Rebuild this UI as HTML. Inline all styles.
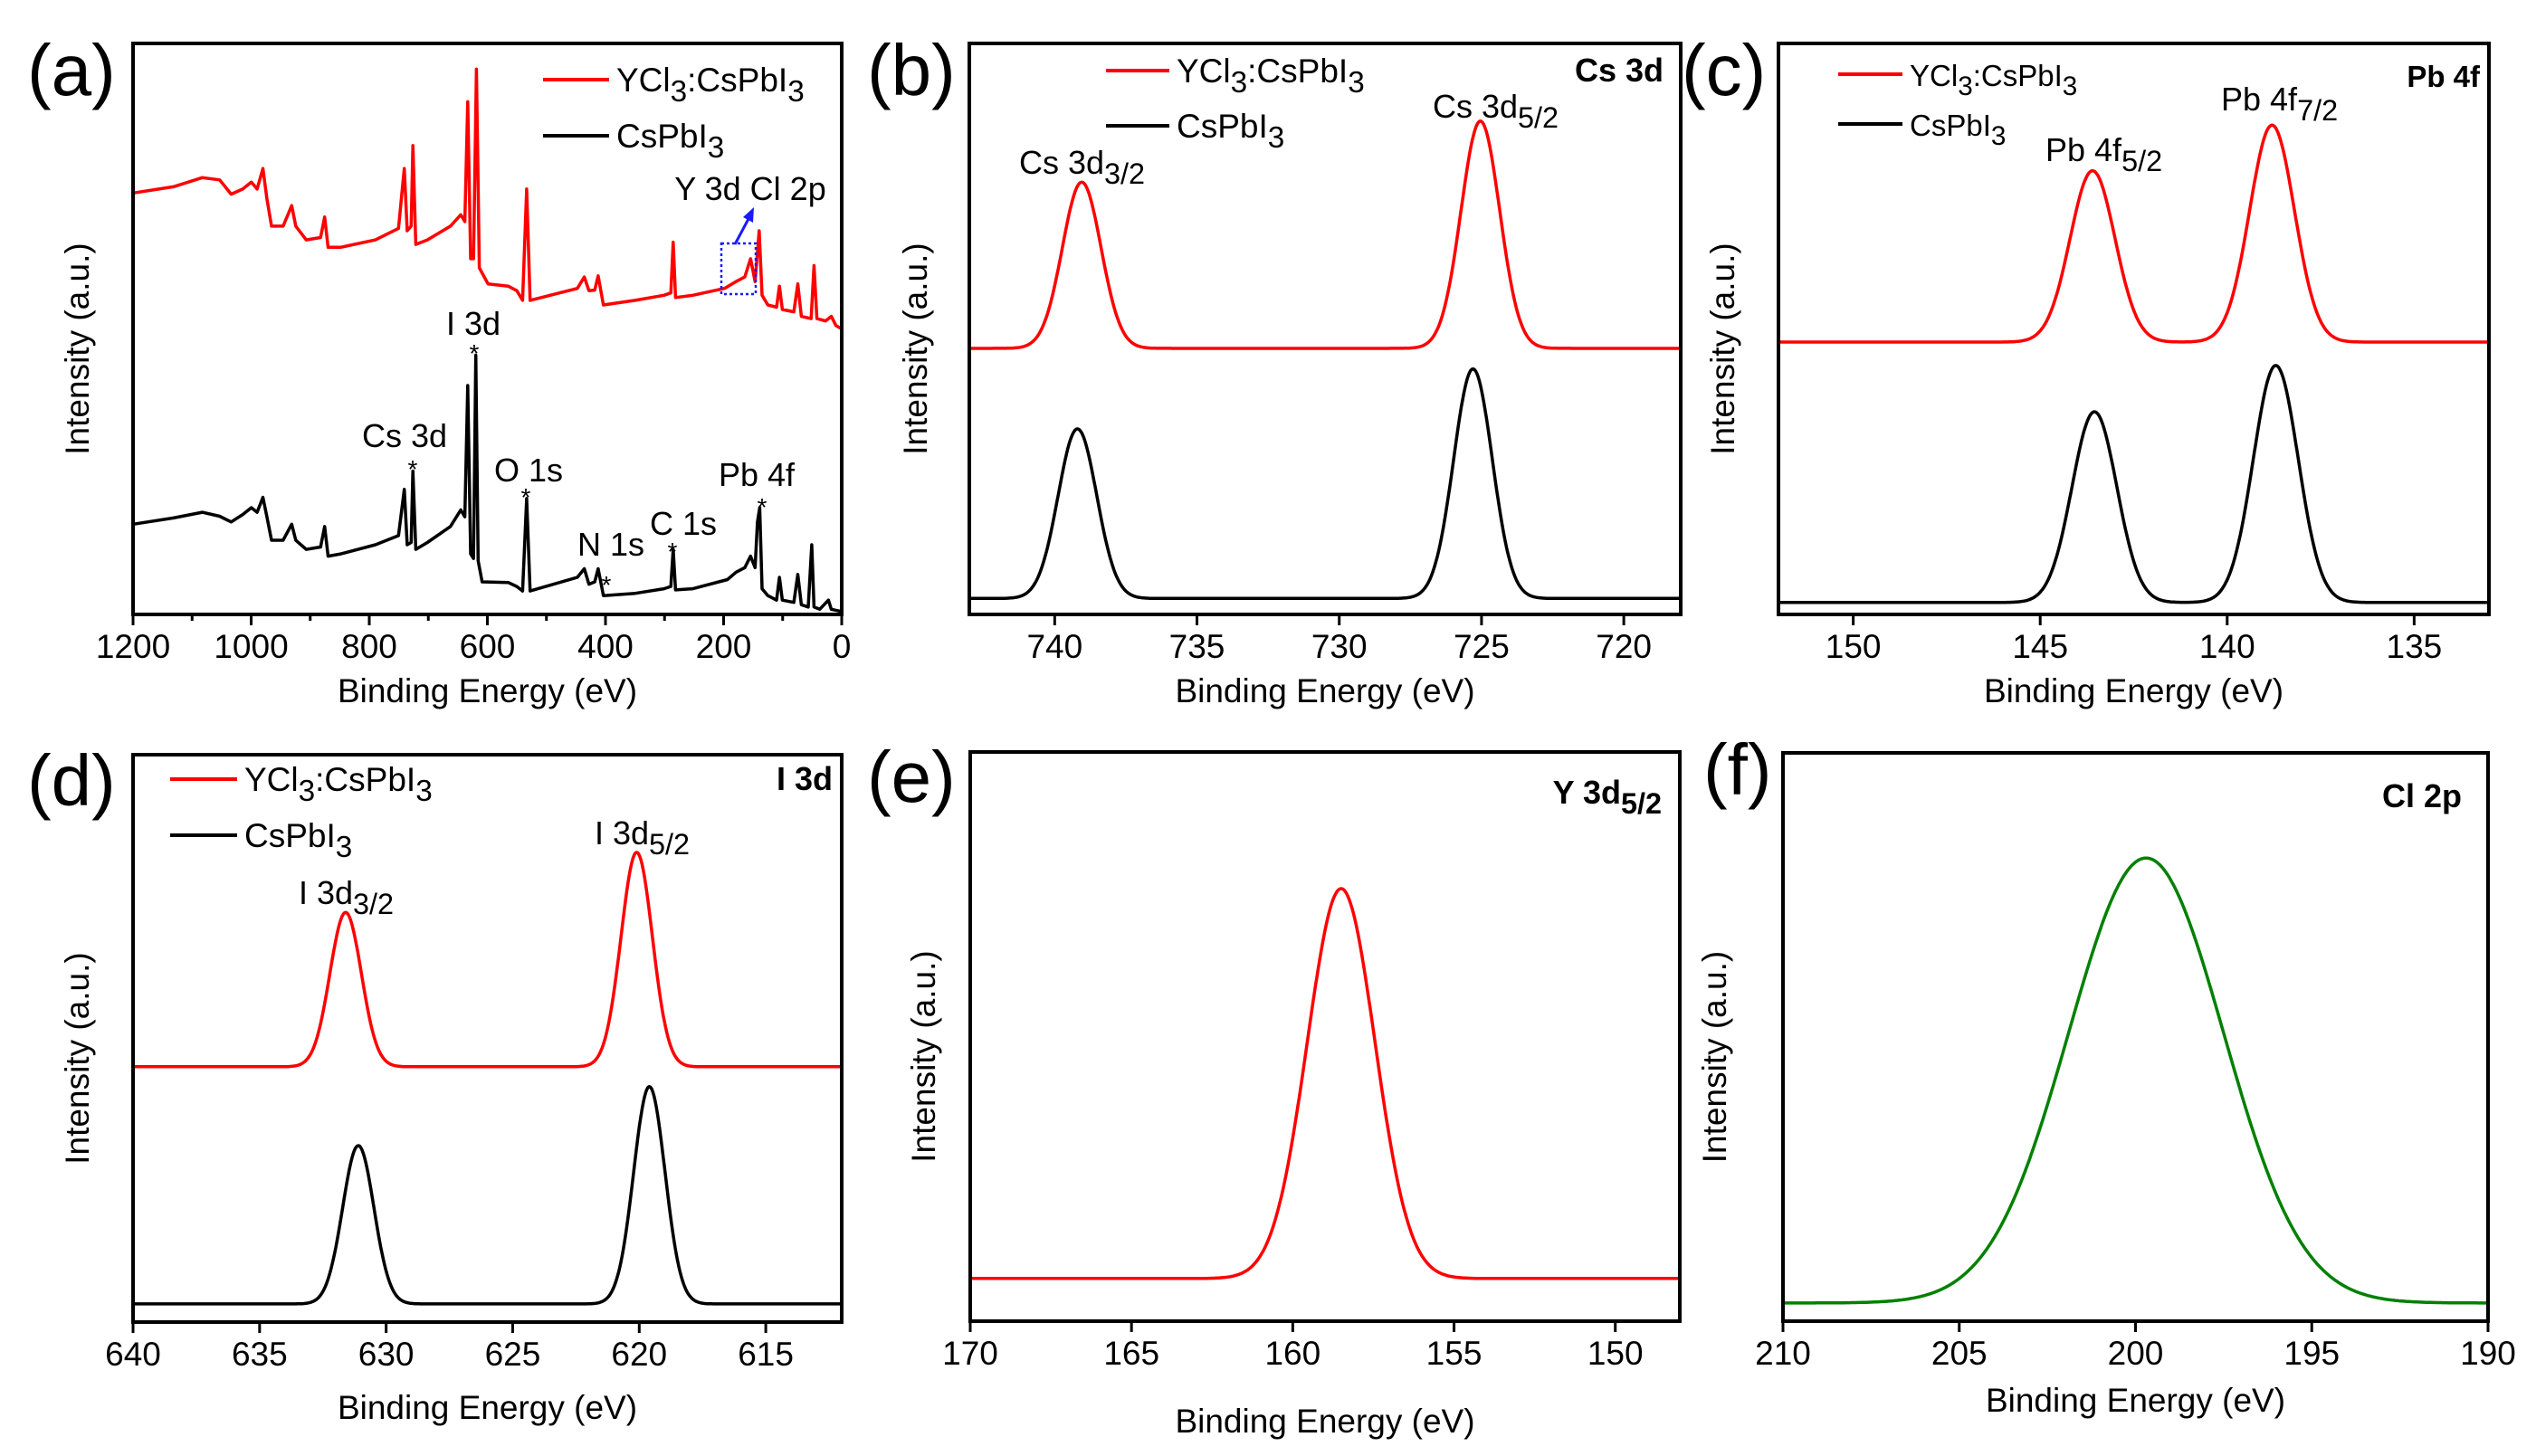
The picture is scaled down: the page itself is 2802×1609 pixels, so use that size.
<!DOCTYPE html>
<html><head><meta charset="utf-8">
<style>
html,body{margin:0;padding:0;background:#fff;}
svg{display:block;font-family:"Liberation Sans",Arial,sans-serif;}
</style></head>
<body>
<svg id="fig" width="2802" height="1609" viewBox="0 0 2802 1609" xmlns="http://www.w3.org/2000/svg"></svg>
<script>
// ---------- Panel (a) survey data ----------
const surveyRedE=[1200,1131.6,1082.7,1053.4,1033.9,1014.3,999.7,989.9,980.1,973.3,965.5,945.9,931.3,924.4,906.8,882.4,875.5,869.7,848.2,789.6,750.5,740.7,735.8,729.0,726.1,721.2,701.6,662.5,645.0,638.2,633.3,628.4,623.5,618.6,613.7,599.0,564.8,550.2,540.4,533.5,527.7,447.6,435.8,428.0,418.2,412.4,403.6,349.8,301.0,289.3,285.3,281.4,252.1,198.4,178.8,164.2,154.4,146.6,139.7,134.8,125.1,110.4,105.5,100.6,81.1,74.3,68.4,51.8,46.9,42.0,27.4,17.6,9.8,0];
const surveyRedI=[73.8,74.9,76.5,76.1,73.6,74.5,75.7,74.5,78.1,72.8,68.0,68.0,71.6,68.0,65.6,66.0,69.6,64.3,64.3,65.6,67.6,78.1,67.2,68.0,82.1,64.8,65.6,68.0,70.0,68.8,89.8,62.3,62.3,95.5,60.7,57.9,57.5,56.7,55.0,74.5,55.0,57.1,59.1,56.7,56.8,59.3,54.2,55.0,55.9,56.3,65.2,55.5,55.9,57.1,58.3,59.1,62.3,58.3,67.2,55.9,54.2,53.8,57.5,53.4,53.0,57.9,52.2,51.8,61.1,51.8,51.4,52.2,50.6,50.0];
const surveyBlackE=[1200,1131.6,1082.7,1053.4,1033.9,1014.3,999.7,989.9,980.1,973.3,965.5,945.9,931.3,924.4,906.8,882.4,875.5,869.7,848.2,789.6,750.5,740.7,735.8,729.0,726.1,721.2,701.6,662.5,645.0,638.2,633.3,628.4,623.5,619.6,615.7,608.9,564.8,550.2,540.4,533.5,527.7,447.6,435.8,428.0,418.2,412.4,403.6,349.8,301.0,289.3,285.3,281.4,252.1,193.5,178.8,164.2,154.4,146.6,142.7,138.8,134.8,125.1,110.4,105.5,100.6,81.1,74.3,68.4,56.7,50.8,46.9,37.2,22.5,17.6,0];
const surveyBlackI=[15.8,16.9,17.9,17.2,16.2,17.5,18.7,17.9,20.5,17.1,13.0,13.0,15.8,13.0,11.4,11.8,15.4,10.2,10.6,12.2,13.8,21.9,12.2,12.6,25.1,11.4,12.6,15.4,18.3,17.1,40.1,10.6,9.8,45.4,9.4,5.7,5.6,4.9,4.1,20.3,4.1,6.5,8.0,5.3,5.7,8.0,3.3,3.7,4.5,4.9,11.4,4.3,4.5,6.1,7.4,8.2,10.2,8.2,16.2,18.7,4.5,3.3,2.5,6.5,2.5,2.1,7.0,1.7,1.3,12.2,1.3,0.9,2.5,0.9,0.5];
const surveyTicks=[1200,1000,800,600,400,200,0];

// ---------- High-res panels: peak models (center eV, amplitude, sigma) ----------
const csRedCenters=[739.05,725.04], csRedAmps=[0.291,0.398], csRedBase=0.466;
const csBlackCenters=[739.2,725.3], csBlackAmps=[0.297,0.402], csBlackBase=0.028;
const csSigma=0.68;
const csTicks=[740,735,730,725,720];

const pbRedCenters=[143.6,138.8], pbRedAmps=[0.30,0.38], pbRedBase=0.477;
const pbBlackCenters=[143.55,138.7], pbBlackAmps=[0.334,0.415], pbBlackBase=0.021;
const pbSigma=0.6;
const pbTicks=[150,145,140,135];

const iRedCenters=[631.6,620.1], iRedAmps=[0.272,0.378], iRedBase=0.45;
const iBlackCenters=[631.1,619.6], iBlackAmps=[0.279,0.383], iBlackBase=0.032;
const iSigma=0.62;
const iTicks=[640,635,630,625,620,615];

const yCenters=[158.5], yAmps=[0.685], yBase=0.075, ySigma=1.05;
const yTicks=[170,165,160,155,150];

const clCenters=[199.7], clAmps=[0.783], clBase=0.032, clSigma=2.2;
const clTicks=[210,205,200,195,190];

const NS="http://www.w3.org/2000/svg";
const svg=document.getElementById('fig');
function mk(tag,attrs,parent){const e=document.createElementNS(NS,tag);for(const k in attrs)e.setAttribute(k,attrs[k]);(parent||svg).appendChild(e);return e;}

function makeAxes(b,xmin,xmax){
  const xs=v=>b.l+(xmin-v)/(xmin-xmax)*(b.r-b.l);
  const ys=v=>b.b-v*(b.b-b.t);
  return {xs,ys};
}
function frame(g,b,ticks,xs,minorStep,xmin,xmax,name){
  const f=mk('rect',{x:b.l,y:b.t,width:b.r-b.l,height:b.b-b.t,fill:'none',stroke:'#000','stroke-width':4},g);
  
  
  const tg=mk('g',{},g);
  
  
  if(minorStep){
    const lo=Math.min(xmin,xmax),hi=Math.max(xmin,xmax);
    for(let v=Math.ceil(lo/minorStep)*minorStep;v<=hi;v+=minorStep){
      mk('line',{x1:xs(v),x2:xs(v),y1:b.b,y2:b.b+7,stroke:'#000','stroke-width':3},tg);
    }
  }
  ticks.forEach(v=>{
    mk('line',{x1:xs(v),x2:xs(v),y1:b.b,y2:b.b+12,stroke:'#000','stroke-width':3},tg);
    const t=mk('text',{x:xs(v),y:b.b+48,'font-size':37,'text-anchor':'middle',fill:'#000'},tg);
    t.textContent=v;
    
    
  });
}
function titles(g,b,ytx,xty,name){
  const xt=mk('text',{x:(b.l+b.r)/2,y:xty,'font-size':37,'text-anchor':'middle',fill:'#000'},g);
  xt.textContent='Binding Energy (eV)';
  
  
  const yc=(b.t+b.b)/2+22;
  const yt=mk('text',{x:ytx,y:yc,'font-size':37,'text-anchor':'middle',fill:'#000',transform:`rotate(-90 ${ytx} ${yc})`},g);
  yt.textContent='Intensity (a.u.)';
  
  
}
function panelLabel(x,y,txt,size){
  const t=mk('text',{x:x,y:y,'font-size':size,fill:'#000'});
  t.textContent=txt;
  
  
}
function richText(g,x,y,parts,size,anchor,weight,name){
  const t=mk('text',{x:x,y:y,'font-size':size,fill:'#000','text-anchor':anchor||'start','font-weight':weight||'normal'},g);
  parts.forEach(p=>{
    const s=mk('tspan',{},t);
    if(p[1]==='sub'){s.setAttribute('dy',size*0.3);s.setAttribute('font-size',size*0.9);}
    else if(p[1]==='back'){s.setAttribute('dy',-size*0.3);}
    s.textContent=p[0];
  });
  
  
  return t;
}
function legend(g,x1,x2,y1,y2,size){
  const l1=mk('line',{x1:x1,x2:x2,y1:y1,y2:y1,stroke:'#ff0000','stroke-width':4},g);
  
  
  richText(g,x2+8,y1+13,[['YCl'],['3','sub'],[':CsPbI','back'],['3','sub']],size,'start','normal','legend-entry-ycl3-cspbi3');
  const l2=mk('line',{x1:x1,x2:x2,y1:y2,y2:y2,stroke:'#000','stroke-width':4},g);
  
  
  richText(g,x2+8,y2+13,[['CsPbI'],['3','sub']],size,'start','normal','legend-entry-cspbi3');
}
function gaussPath(ax,xmin,xmax,centers,amps,sigma,base){
  let d='';const n=600;
  for(let i=0;i<=n;i++){
    const e=xmin+(xmax-xmin)*i/n;
    let v=base;
    for(let k=0;k<centers.length;k++)v+=amps[k]*Math.exp(-0.5*Math.pow((e-centers[k])/sigma,2));
    d+=(i?'L':'M')+ax.xs(e).toFixed(1)+','+ax.ys(v).toFixed(1);
  }
  return d;
}
function curve(g,d,color,name){
  const p=mk('path',{d:d,fill:'none',stroke:color,'stroke-width':3.5,'stroke-linejoin':'round'},g);
  
  
}

// ---------- Panel (a) ----------
(function(){
  const b={l:147,t:48,r:930,b:679};
  const g=mk('g',{});
  
  
  const ax=makeAxes(b,1200,0);
  const y100=v=>ax.ys(v/100);
  let d='';surveyRedE.forEach((e,i)=>{d+=(i?'L':'M')+ax.xs(e).toFixed(1)+','+y100(surveyRedI[i]).toFixed(1);});
  curve(g,d,'#ff0000','survey-ycl3-cspbi3-line');
  d='';surveyBlackE.forEach((e,i)=>{d+=(i?'L':'M')+ax.xs(e).toFixed(1)+','+y100(surveyBlackI[i]).toFixed(1);});
  curve(g,d,'#000','survey-cspbi3-line');
  frame(g,b,surveyTicks,ax.xs,100,1200,0,'panel-a');
  titles(g,b,98,776,'panel-a');
  legend(g,600,673,88,150,37);
  const ann=[['I 3d',523,370],['Cs 3d',447,494],['O 1s',584,532],['N 1s',675,614],['C 1s',755,591],['Pb 4f',836,537],['Y 3d Cl 2p',829,221]];
  ann.forEach(a=>{richText(g,a[1],a[2],[[a[0]]],36,'middle','normal','peak-annotation');});
  [[524,400],[456,528],[581,559],[670,656],[743,619],[842,570]].forEach(s=>{richText(g,s[0],s[1],[['*']],28,'middle','normal','peak-marker');});
  const box=mk('rect',{x:797,y:269,width:38,height:56,fill:'none',stroke:'#1a1aff','stroke-width':2.5,'stroke-dasharray':'3,3'},g);
  
  
  const ar=mk('line',{x1:812,y1:270,x2:828,y2:240,stroke:'#1a1aff','stroke-width':3},g);
  
  
  mk('polygon',{points:'833,229 821,240 832,246',fill:'#1a1aff'},g);
})();

// ---------- Panel (b) Cs 3d ----------
(function(){
  const b={l:1071,t:48,r:1857,b:679};const xmin=743,xmax=718;
  const g=mk('g',{});
  
  
  const ax=makeAxes(b,xmin,xmax);
  curve(g,gaussPath(ax,xmin,xmax,csRedCenters,csRedAmps,csSigma,csRedBase),'#ff0000','cs3d-ycl3-line');
  curve(g,gaussPath(ax,xmin,xmax,csBlackCenters,csBlackAmps,csSigma,csBlackBase),'#000','cs3d-cspbi3-line');
  frame(g,b,csTicks,ax.xs,0,xmin,xmax,'panel-b');
  titles(g,b,1024,776,'panel-b');
  legend(g,1222,1292,78,139,37);
  richText(g,1838,90,[['Cs 3d']],36,'end','bold','panel-b-title');
  richText(g,1126,192,[['Cs 3d'],['3/2','sub']],36,'start','normal','cs3d32-label');
  richText(g,1583,130,[['Cs 3d'],['5/2','sub']],36,'start','normal','cs3d52-label');
})();

// ---------- Panel (c) Pb 4f ----------
(function(){
  const b={l:1965,t:48,r:2750,b:679};const xmin=152,xmax=133;
  const g=mk('g',{});
  
  
  const ax=makeAxes(b,xmin,xmax);
  curve(g,gaussPath(ax,xmin,xmax,pbRedCenters,pbRedAmps,pbSigma,pbRedBase),'#ff0000','pb4f-ycl3-line');
  curve(g,gaussPath(ax,xmin,xmax,pbBlackCenters,pbBlackAmps,pbSigma,pbBlackBase),'#000','pb4f-cspbi3-line');
  frame(g,b,pbTicks,ax.xs,0,xmin,xmax,'panel-c');
  titles(g,b,1916,776,'panel-c');
  legend(g,2031,2102,82,137,33);
  richText(g,2740,96,[['Pb 4f']],33,'end','bold','panel-c-title');
  richText(g,2260,178,[['Pb 4f'],['5/2','sub']],36,'start','normal','pb4f52-label');
  richText(g,2454,122,[['Pb 4f'],['7/2','sub']],36,'start','normal','pb4f72-label');
})();

// ---------- Panel (d) I 3d ----------
(function(){
  const b={l:147,t:834,r:930,b:1461};const xmin=640,xmax=612;
  const g=mk('g',{});
  
  
  const ax=makeAxes(b,xmin,xmax);
  curve(g,gaussPath(ax,xmin,xmax,iRedCenters,iRedAmps,iSigma,iRedBase),'#ff0000','i3d-ycl3-line');
  curve(g,gaussPath(ax,xmin,xmax,iBlackCenters,iBlackAmps,iSigma,iBlackBase),'#000','i3d-cspbi3-line');
  frame(g,b,iTicks,ax.xs,0,xmin,xmax,'panel-d');
  titles(g,b,98,1568,'panel-d');
  legend(g,188,262,861,923,37);
  richText(g,920,873,[['I 3d']],36,'end','bold','panel-d-title');
  richText(g,330,999,[['I 3d'],['3/2','sub']],36,'start','normal','i3d32-label');
  richText(g,657,933,[['I 3d'],['5/2','sub']],36,'start','normal','i3d52-label');
})();

// ---------- Panel (e) Y 3d ----------
(function(){
  const b={l:1072,t:831,r:1856,b:1460};const xmin=170,xmax=148;
  const g=mk('g',{});
  
  
  const ax=makeAxes(b,xmin,xmax);
  curve(g,gaussPath(ax,xmin,xmax,yCenters,yAmps,ySigma,yBase),'#ff0000','y3d-line');
  frame(g,b,yTicks,ax.xs,0,xmin,xmax,'panel-e');
  titles(g,b,1033,1583,'panel-e');
  richText(g,1836,888,[['Y 3d'],['5/2','sub']],36,'end','bold','panel-e-title');
})();

// ---------- Panel (f) Cl 2p ----------
(function(){
  const b={l:1970,t:832,r:2749,b:1460};const xmin=210,xmax=190;
  const g=mk('g',{});
  
  
  const ax=makeAxes(b,xmin,xmax);
  curve(g,gaussPath(ax,xmin,xmax,clCenters,clAmps,clSigma,clBase),'#008000','cl2p-line');
  frame(g,b,clTicks,ax.xs,0,xmin,xmax,'panel-f');
  titles(g,b,1907,1560,'panel-f');
  richText(g,2720,892,[['Cl 2p']],36,'end','bold','panel-f-title');
})();

panelLabel(30,105,'(a)',80);
panelLabel(958,105,'(b)',80);
panelLabel(1858,105,'(c)',80);
panelLabel(30,890,'(d)',80);
panelLabel(958,886,'(e)',80);
panelLabel(1882,878,'(f)',80);
</script>
</body></html>
